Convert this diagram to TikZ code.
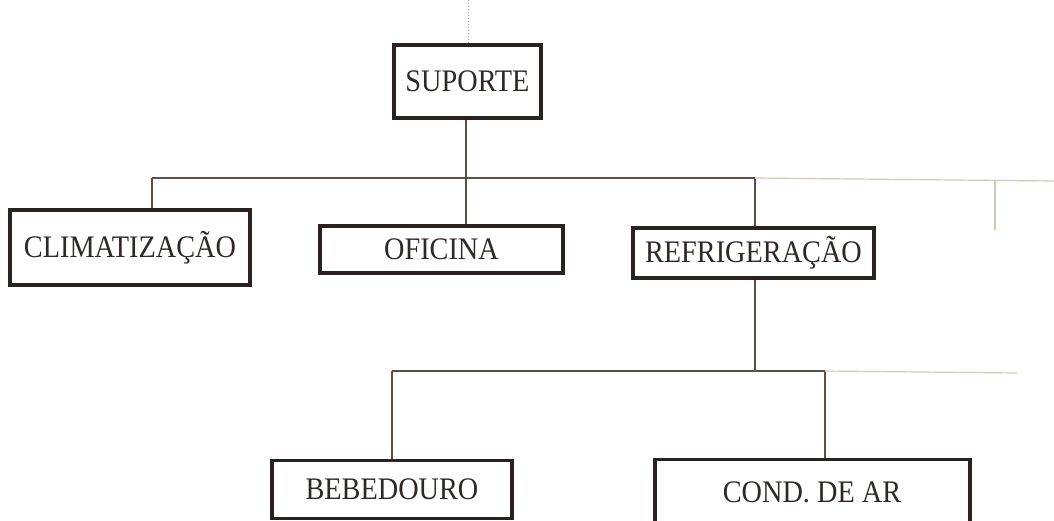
\documentclass[tikz,border=0pt]{standalone}
\usepackage{fontspec}
\usepackage{graphicx}
\setmainfont{Liberation Serif}
% unit names are set a little taller than the plain face
\newcommand\unittext[1]{\scalebox{1.01}[1.12]{#1}}
\begin{document}
\begin{tikzpicture}[x=1pt,y=-1pt,
  unit/.style={draw=boxline, line width=3.4pt, fill=white, inner sep=0pt,
    font=\fontsize{28}{32}\selectfont, text=textcol},
  label/.style={text=textcol, font=\fontsize{28}{32}\selectfont, inner sep=0pt},
  link/.style={draw=linecol, line width=1.3pt},
  faint/.style={draw=faintcol, line width=1.2pt}]
  \definecolor{boxline}{HTML}{2A2220}
  \definecolor{linecol}{HTML}{5A5048}
  \definecolor{faintcol}{HTML}{D6C6B4}
  \definecolor{textcol}{HTML}{2E2826}
  \useasboundingbox (0,0) rectangle (1054,520);
  \clip (0,0) rectangle (1054,520);

  % organisation units
  \node[unit, minimum width=147, minimum height=73] (sup) at (467.5,81.5) {\unittext{SUPORTE}};
  \node[unit, minimum width=240, minimum height=75] (clim) at (130,247.5) {\unittext{CLIMATIZAÇÃO}};
  \node[unit, minimum width=243, minimum height=47] (ofi) at (441.5,249.5) {\unittext{OFICINA}};
  \node[unit, minimum width=241, minimum height=50] (ref) at (753.5,253) {\unittext{REFRIGERAÇÃO}};
  \node[unit, minimum width=240, minimum height=58, anchor=north] (beb) at (392,459) {};
  \node[label] (bebt) at (392,489) {\unittext{BEBEDOURO}};
  \node[unit, minimum width=315, minimum height=90, anchor=north] (cond) at (812.5,458) {};
  \node[label] (condt) at (812,492) {\unittext{COND. DE AR}};

  % junction points on the two buses
  \coordinate (top) at (468,0);
  \coordinate (jc) at (152,178);
  \coordinate (jo) at (466,178);
  \coordinate (jr) at (755,178);
  \coordinate (je) at (1054,181);
  \coordinate (jx) at (995,181);
  \coordinate (jxe) at (995,230);
  \coordinate (kb) at (392,371);
  \coordinate (kr) at (755,371);
  \coordinate (kc) at (825,371);
  \coordinate (ke) at (1017,373);

  % upward link, dotted
  \draw[draw=faintcol!80!black, line width=1pt, dotted] (top) -- (sup.north -| top);

  % first level
  \draw[link] (sup.south -| jo) -- (jo);
  \draw[link] (jc) -- (jr);
  \draw[link] (jc) -- (jc |- clim.north);
  \draw[link] (jo) -- (jo |- ofi.north);
  \draw[link] (jr) -- (jr |- ref.north);
  \draw[faint] (jr) -- (je);
  \draw[faint] (jx) -- (jxe);

  % second level
  \draw[link] (ref.south -| kr) -- (kr);
  \draw[link] (kb) -- (kc);
  \draw[link] (kb) -- (kb |- beb.north);
  \draw[link] (kc) -- (kc |- cond.north);
  \draw[faint] (kc) -- (ke);
\end{tikzpicture}
\end{document}
